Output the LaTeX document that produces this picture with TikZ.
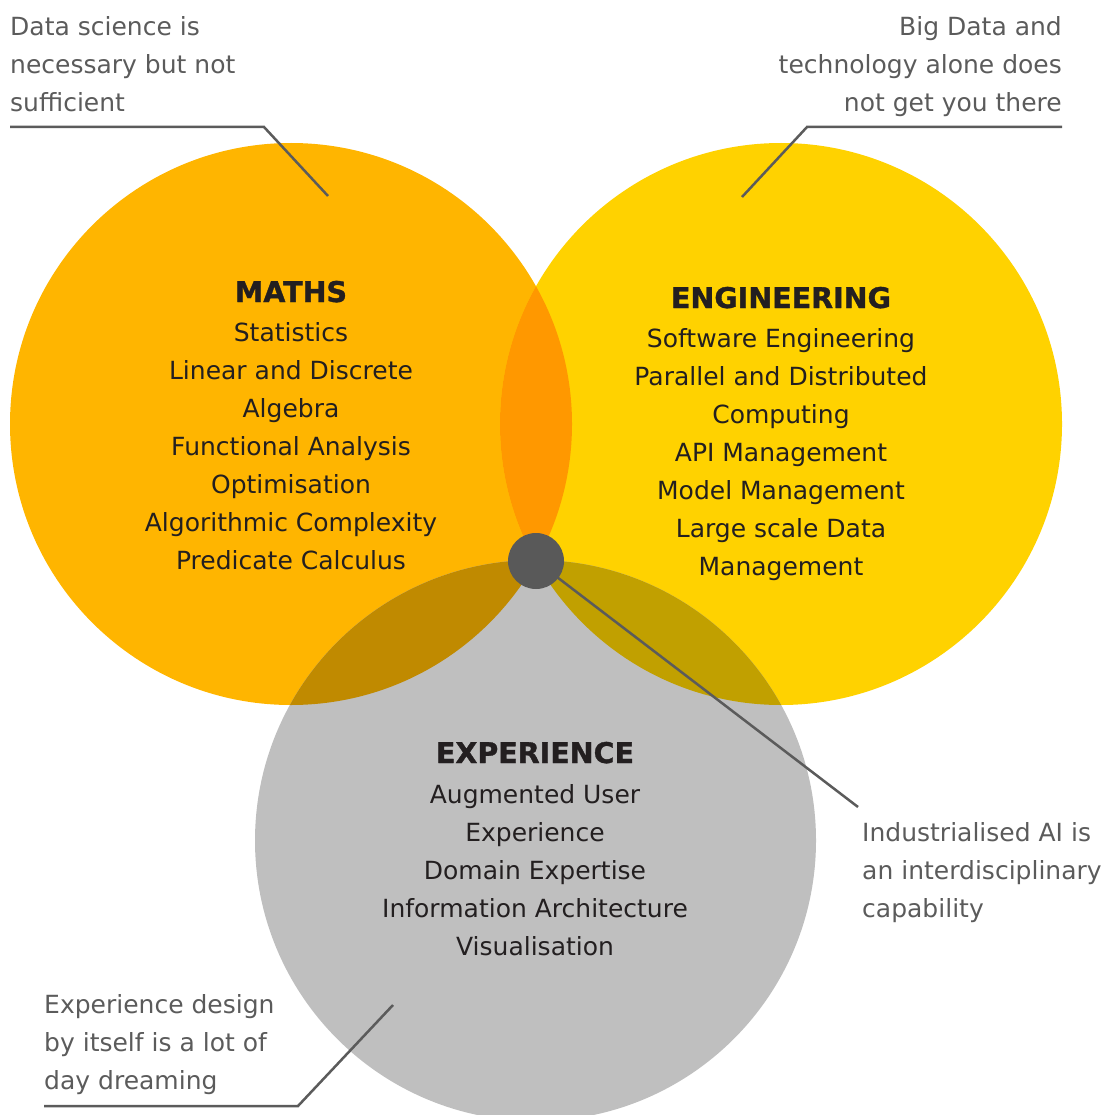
\documentclass[tikz,border=0pt]{standalone}
\usepackage{fontspec}
\setmainfont{DejaVu Sans}
\newfontfamily\headfont[FakeBold=1.2]{DejaVu Sans Bold}
\definecolor{mathsc}{HTML}{FFB500}
\definecolor{engc}{HTML}{FFD200}
\definecolor{expc}{HTML}{BFBFBF}
\definecolor{meo}{HTML}{FF9800}
\definecolor{mxo}{HTML}{C08A00}
\definecolor{exo}{HTML}{C1A000}
\definecolor{dotc}{HTML}{595959}
\definecolor{notec}{HTML}{5B5B5B}
\definecolor{ink}{HTML}{231F20}
\begin{document}
\begin{tikzpicture}[x=1pt,y=-1pt,
  note/.style={text=notec, font=\fontsize{25}{38}\selectfont, inner sep=0pt},
  body/.style={text=ink, font=\fontsize{25}{38}\selectfont, align=center, inner sep=0pt},
  head/.style={text=ink, font=\headfont\fontsize{28.5}{38}\selectfont, inner sep=0pt},
  leader/.style={draw=notec, line width=2.5pt},
  disc/.style={circle, inner sep=0pt, minimum size=562pt}]
\useasboundingbox (0,0) rectangle (1112,1115);
\clip (0,0) rectangle (1112,1115);
% circles
\node[disc, fill=mathsc] (maths) at (291,424) {};
\node[disc, fill=engc] (eng) at (781,424) {};
\node[disc, fill=expc, minimum size=561pt] (exp) at (535.5,840.5) {};
% overlaps
\begin{scope}
  \clip (291,424) circle[radius=281pt];
  \fill[meo] (781,424) circle[radius=281pt];
  \fill[mxo] (535.5,840.5) circle[radius=280.5pt];
\end{scope}
\begin{scope}
  \clip (781,424) circle[radius=281pt];
  \fill[exo] (535.5,840.5) circle[radius=280.5pt];
\end{scope}
% leader lines
\coordinate (a1) at (10,127);
\coordinate (a2) at (264,127);
\coordinate (a3) at (328,196);
\coordinate (b1) at (1062,127);
\coordinate (b2) at (807,127);
\coordinate (b3) at (742,197);
\coordinate (c1) at (44,1106);
\coordinate (c2) at (298,1106);
\coordinate (c3) at (393,1005);
\coordinate (d3) at (858,807);
\coordinate (dc) at (536,561);
\draw[leader] (a1) -- (a2) -- (a3);
\draw[leader] (b1) -- (b2) -- (b3);
\draw[leader] (c1) -- (c2) -- (c3);
\draw[leader] (dc) -- (d3);
\node[circle, fill=dotc, inner sep=0pt, minimum size=56pt] (dot) at (dc) {};
% annotations (base anchor = last line's baseline)
\node[note, align=left, anchor=base west] (n1) at (10,112) {Data science is\\necessary but not\\sufficient};
\node[note, align=right, anchor=base east] (n2) at (1062,112) {Big Data and\\technology alone does\\not get you there};
\node[note, align=left, anchor=base west] (n3) at (862,917) {Industrialised AI is\\an interdisciplinary\\capability};
\node[note, align=left, anchor=base west] (n4) at (44,1089) {Experience design\\by itself is a lot of\\day dreaming};
% headings
\node[head, anchor=base] (hm) at (291,302) {MATHS};
\node[head, anchor=base] (he) at (781,308) {ENGINEERING};
\node[head, anchor=base] (hx) at (535,763) {EXPERIENCE};
% bodies
\node[body, anchor=base] (bm) at (291,569) {Statistics\\Linear and Discrete\\Algebra\\Functional Analysis\\Optimisation\\Algorithmic Complexity\\Predicate Calculus};
\node[body, anchor=base] (be) at (781,575) {Software Engineering\\Parallel and Distributed\\Computing\\API Management\\Model Management\\Large scale Data\\Management};
\node[body, anchor=base] (bx) at (535,955) {Augmented User\\Experience\\Domain Expertise\\Information Architecture\\Visualisation};
\end{tikzpicture}
\end{document}
